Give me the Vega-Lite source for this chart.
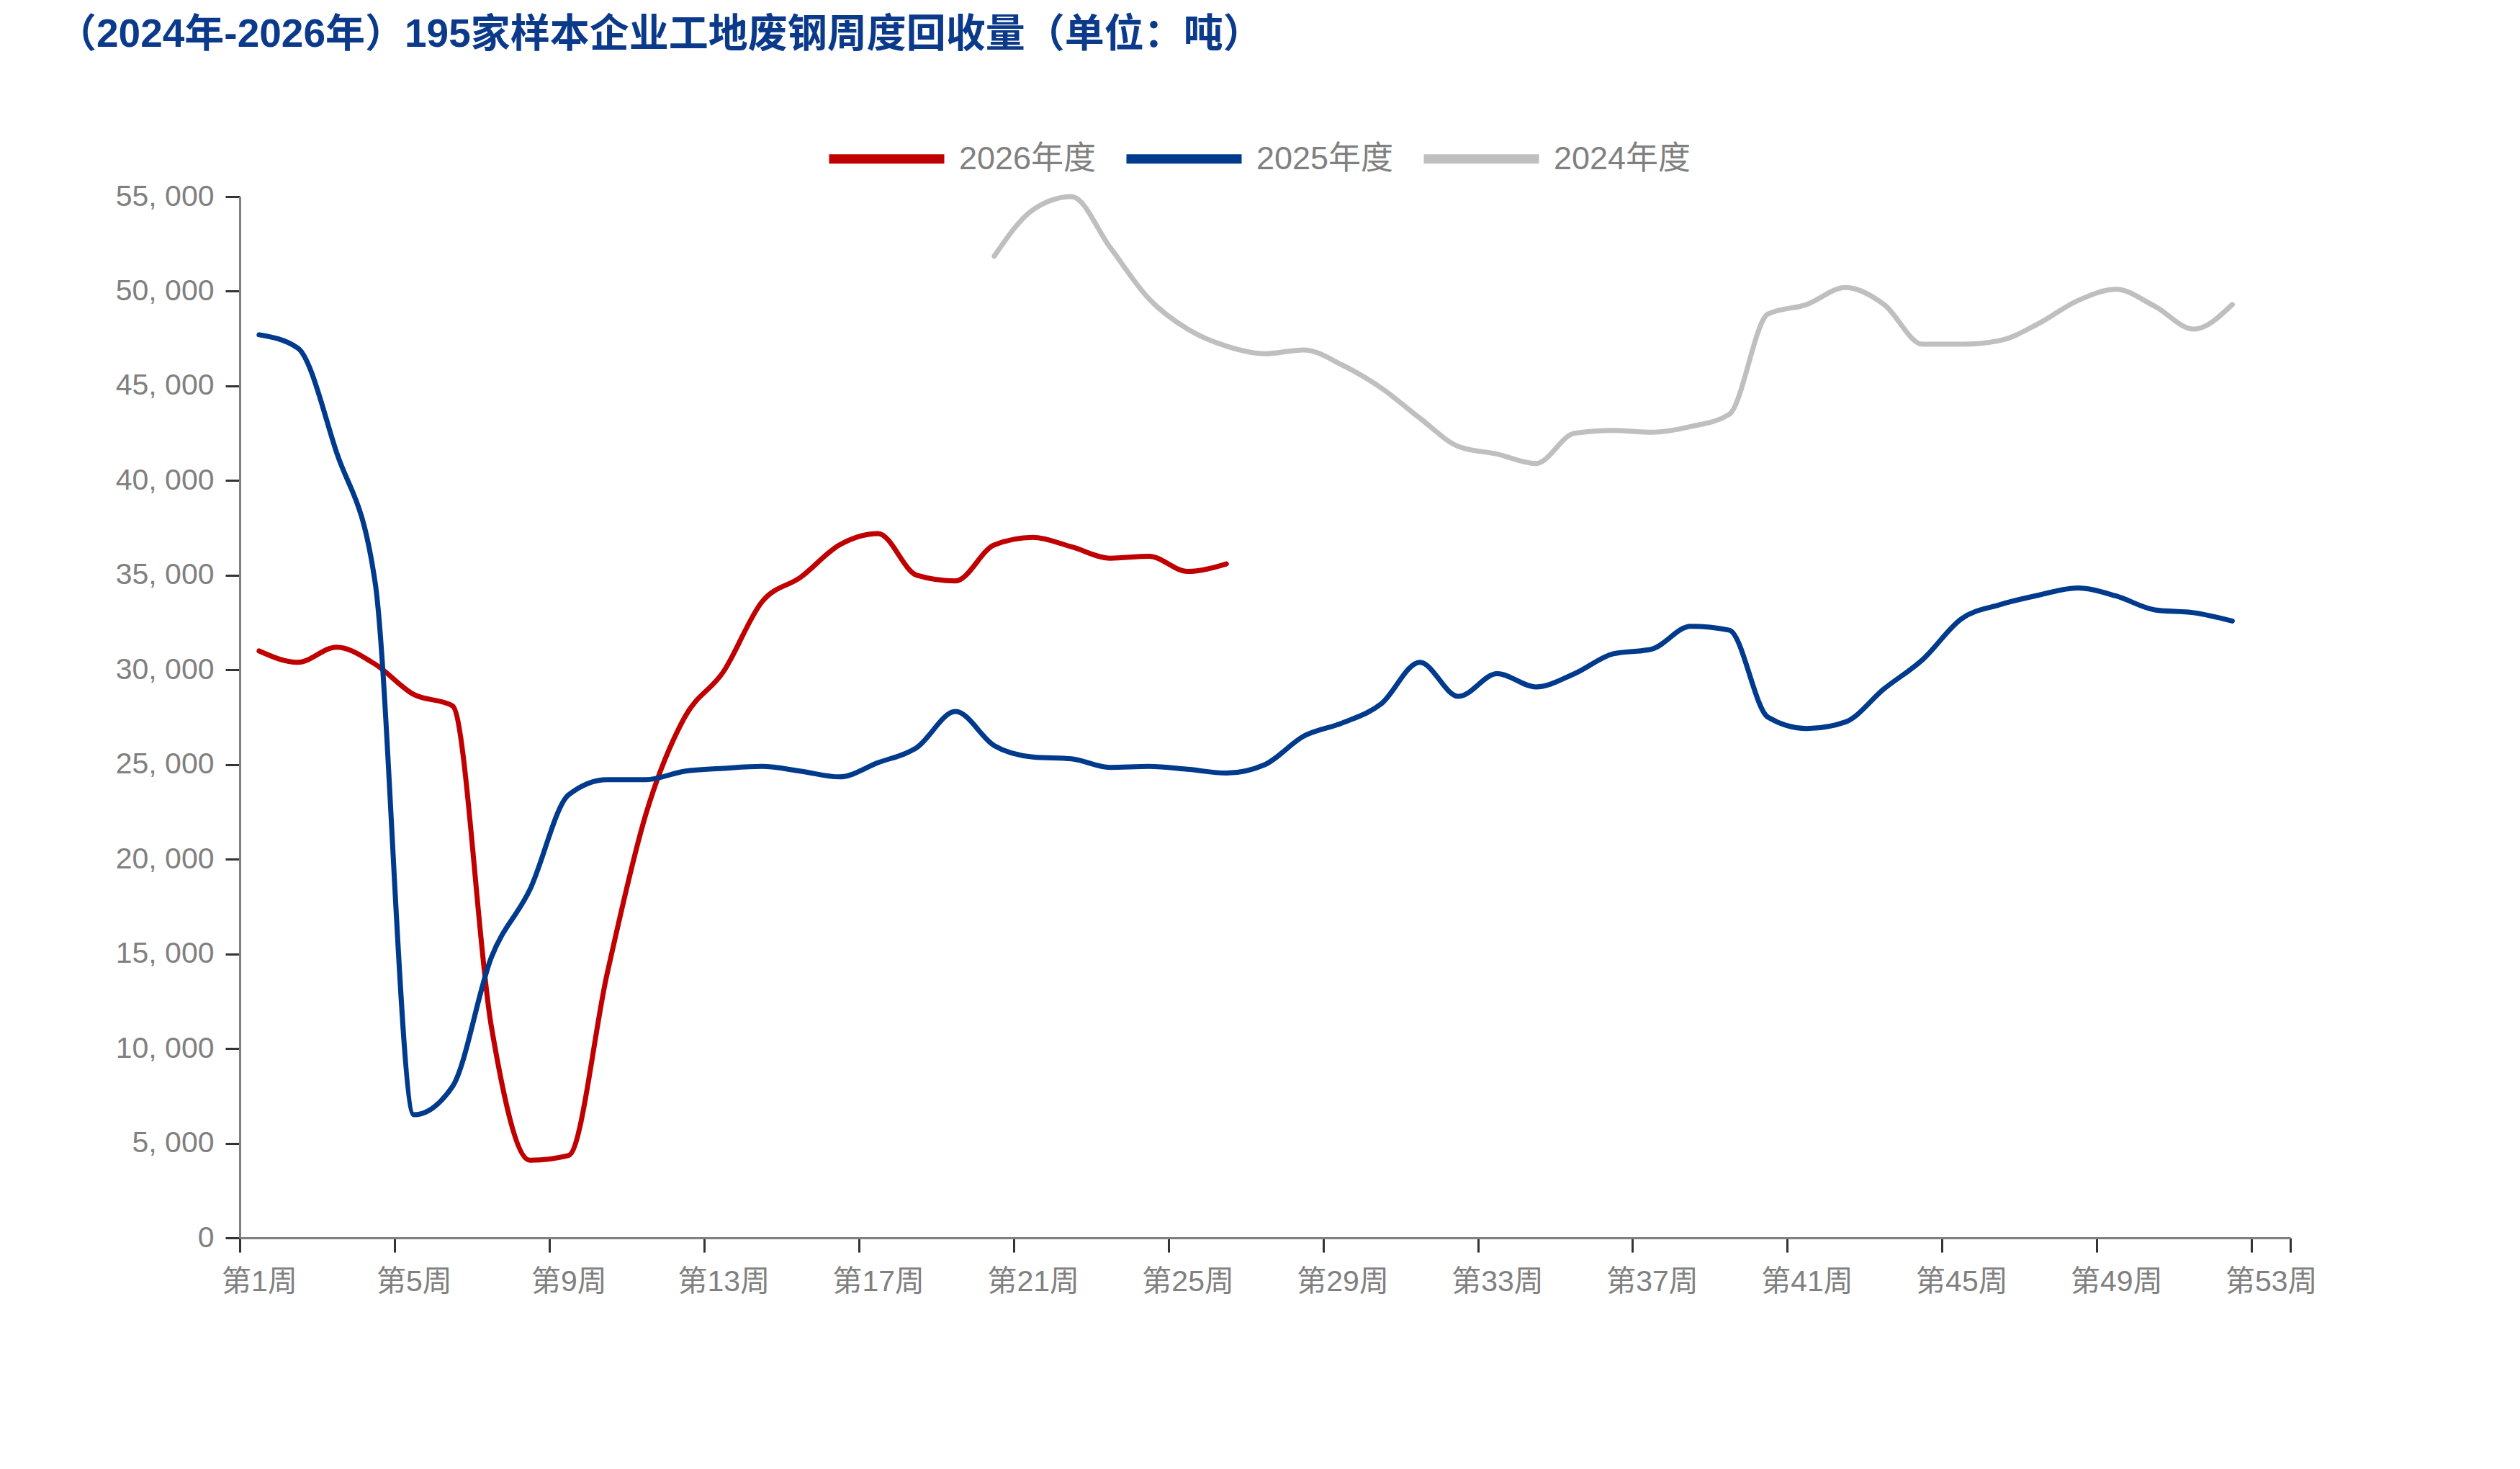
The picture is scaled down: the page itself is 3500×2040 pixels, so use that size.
{
  "$schema": "https://vega.github.io/schema/vega-lite/v6.json",
  "autosize": {"type": "none"},
  "padding": {"left": 333, "top": 273, "right": 319, "bottom": 321},
  "width": 2848,
  "height": 1446,
  "background": "white",
  "title": {
    "text": "（2024年-2026年）195家样本企业工地废钢周度回收量（单位：吨）",
    "anchor": "start",
    "frame": "group",
    "dx": -254,
    "offset": 57,
    "font": "Liberation Sans, Noto Sans CJK SC",
    "fontSize": 55,
    "fontWeight": "bold",
    "color": "#0B3A8A"
  },
  "config": {
    "view": {"stroke": null},
    "axis": {"grid": false}
  },
  "data": {
    "values": [
      {"week": 1, "series": "2026年度", "value": 31000},
      {"week": 2, "series": "2026年度", "value": 30400},
      {"week": 3, "series": "2026年度", "value": 31200},
      {"week": 4, "series": "2026年度", "value": 30300},
      {"week": 5, "series": "2026年度", "value": 28700},
      {"week": 6, "series": "2026年度", "value": 28100},
      {"week": 7, "series": "2026年度", "value": 11200},
      {"week": 8, "series": "2026年度", "value": 4100},
      {"week": 9, "series": "2026年度", "value": 4350},
      {"week": 10, "series": "2026年度", "value": 14000},
      {"week": 11, "series": "2026年度", "value": 22400},
      {"week": 12, "series": "2026年度", "value": 27500},
      {"week": 13, "series": "2026年度", "value": 29900},
      {"week": 14, "series": "2026年度", "value": 33600},
      {"week": 15, "series": "2026年度", "value": 34900},
      {"week": 16, "series": "2026年度", "value": 36600},
      {"week": 17, "series": "2026年度", "value": 37200},
      {"week": 18, "series": "2026年度", "value": 35000},
      {"week": 19, "series": "2026年度", "value": 34700},
      {"week": 20, "series": "2026年度", "value": 36600},
      {"week": 21, "series": "2026年度", "value": 37000},
      {"week": 22, "series": "2026年度", "value": 36500},
      {"week": 23, "series": "2026年度", "value": 35900},
      {"week": 24, "series": "2026年度", "value": 36000},
      {"week": 25, "series": "2026年度", "value": 35200},
      {"week": 26, "series": "2026年度", "value": 35600},

      {"week": 1, "series": "2025年度", "value": 47700},
      {"week": 2, "series": "2025年度", "value": 47000},
      {"week": 3, "series": "2025年度", "value": 41500},
      {"week": 4, "series": "2025年度", "value": 34600},
      {"week": 5, "series": "2025年度", "value": 6500},
      {"week": 6, "series": "2025年度", "value": 8000},
      {"week": 7, "series": "2025年度", "value": 14800},
      {"week": 8, "series": "2025年度", "value": 18400},
      {"week": 9, "series": "2025年度", "value": 23400},
      {"week": 10, "series": "2025年度", "value": 24200},
      {"week": 11, "series": "2025年度", "value": 24200},
      {"week": 12, "series": "2025年度", "value": 24650},
      {"week": 13, "series": "2025年度", "value": 24800},
      {"week": 14, "series": "2025年度", "value": 24900},
      {"week": 15, "series": "2025年度", "value": 24650},
      {"week": 16, "series": "2025年度", "value": 24350},
      {"week": 17, "series": "2025年度", "value": 25100},
      {"week": 18, "series": "2025年度", "value": 25900},
      {"week": 19, "series": "2025年度", "value": 27800},
      {"week": 20, "series": "2025年度", "value": 26000},
      {"week": 21, "series": "2025年度", "value": 25400},
      {"week": 22, "series": "2025年度", "value": 25300},
      {"week": 23, "series": "2025年度", "value": 24850},
      {"week": 24, "series": "2025年度", "value": 24900},
      {"week": 25, "series": "2025年度", "value": 24750},
      {"week": 26, "series": "2025年度", "value": 24550},
      {"week": 27, "series": "2025年度", "value": 25000},
      {"week": 28, "series": "2025年度", "value": 26500},
      {"week": 29, "series": "2025年度", "value": 27200},
      {"week": 30, "series": "2025年度", "value": 28200},
      {"week": 31, "series": "2025年度", "value": 30400},
      {"week": 32, "series": "2025年度", "value": 28600},
      {"week": 33, "series": "2025年度", "value": 29800},
      {"week": 34, "series": "2025年度", "value": 29100},
      {"week": 35, "series": "2025年度", "value": 29800},
      {"week": 36, "series": "2025年度", "value": 30850},
      {"week": 37, "series": "2025年度", "value": 31100},
      {"week": 38, "series": "2025年度", "value": 32300},
      {"week": 39, "series": "2025年度", "value": 32100},
      {"week": 40, "series": "2025年度", "value": 27500},
      {"week": 41, "series": "2025年度", "value": 26900},
      {"week": 42, "series": "2025年度", "value": 27250},
      {"week": 43, "series": "2025年度", "value": 29000},
      {"week": 44, "series": "2025年度", "value": 30550},
      {"week": 45, "series": "2025年度", "value": 32700},
      {"week": 46, "series": "2025年度", "value": 33450},
      {"week": 47, "series": "2025年度", "value": 33950},
      {"week": 48, "series": "2025年度", "value": 34330},
      {"week": 49, "series": "2025年度", "value": 33900},
      {"week": 50, "series": "2025年度", "value": 33170},
      {"week": 51, "series": "2025年度", "value": 33020},
      {"week": 52, "series": "2025年度", "value": 32580},

      {"week": 20, "series": "2024年度", "value": 51850},
      {"week": 21, "series": "2024年度", "value": 54300},
      {"week": 22, "series": "2024年度", "value": 55000},
      {"week": 23, "series": "2024年度", "value": 52300},
      {"week": 24, "series": "2024年度", "value": 49600},
      {"week": 25, "series": "2024年度", "value": 48000},
      {"week": 26, "series": "2024年度", "value": 47100},
      {"week": 27, "series": "2024年度", "value": 46700},
      {"week": 28, "series": "2024年度", "value": 46900},
      {"week": 29, "series": "2024年度", "value": 46100},
      {"week": 30, "series": "2024年度", "value": 44900},
      {"week": 31, "series": "2024年度", "value": 43300},
      {"week": 32, "series": "2024年度", "value": 41800},
      {"week": 33, "series": "2024年度", "value": 41400},
      {"week": 34, "series": "2024年度", "value": 40900},
      {"week": 35, "series": "2024年度", "value": 42500},
      {"week": 36, "series": "2024年度", "value": 42650},
      {"week": 37, "series": "2024年度", "value": 42550},
      {"week": 38, "series": "2024年度", "value": 42850},
      {"week": 39, "series": "2024年度", "value": 43500},
      {"week": 40, "series": "2024年度", "value": 48800},
      {"week": 41, "series": "2024年度", "value": 49300},
      {"week": 42, "series": "2024年度", "value": 50200},
      {"week": 43, "series": "2024年度", "value": 49300},
      {"week": 44, "series": "2024年度", "value": 47200},
      {"week": 45, "series": "2024年度", "value": 47200},
      {"week": 46, "series": "2024年度", "value": 47400},
      {"week": 47, "series": "2024年度", "value": 48300},
      {"week": 48, "series": "2024年度", "value": 49500},
      {"week": 49, "series": "2024年度", "value": 50100},
      {"week": 50, "series": "2024年度", "value": 49200},
      {"week": 51, "series": "2024年度", "value": 48000},
      {"week": 52, "series": "2024年度", "value": 49300}
    ]
  },
  "mark": {"type": "line", "interpolate": "monotone", "strokeWidth": 7, "strokeCap": "round", "strokeJoin": "round"},
  "encoding": {
    "x": {
      "field": "week",
      "type": "quantitative",
      "scale": {"domain": [0.5, 53.5], "nice": false, "zero": false},
      "axis": {
        "title": null,
        "values": [0.5, 4.5, 8.5, 12.5, 16.5, 20.5, 24.5, 28.5, 32.5, 36.5, 40.5, 44.5, 48.5, 52.5, 53.5],
        "labelExpr": "datum.value < 53 ? '第' + (datum.value + 0.5) + '周' : ''",
        "labelOffset": 27,
        "labelFlush": false,
        "labelOverlap": false,
        "labelBound": false,
        "labelFont": "Liberation Sans, Noto Sans CJK SC",
        "labelFontSize": 41,
        "labelColor": "#808080",
        "labelPadding": 21,
        "tickSize": 20,
        "tickWidth": 3,
        "tickColor": "#333333",
        "domainColor": "#808080",
        "domainWidth": 3
      }
    },
    "y": {
      "field": "value",
      "type": "quantitative",
      "scale": {"domain": [0, 55000], "nice": false},
      "axis": {
        "title": null,
        "values": [0, 5000, 10000, 15000, 20000, 25000, 30000, 35000, 40000, 45000, 50000, 55000],
        "labelExpr": "replace(format(datum.value, ','), ',', ', ')",
        "labelFont": "Liberation Sans, Noto Sans CJK SC",
        "labelFontSize": 41,
        "labelColor": "#808080",
        "labelPadding": 16,
        "tickSize": 20,
        "tickWidth": 3,
        "tickColor": "#333333",
        "domainColor": "#808080",
        "domainWidth": 3,
        "labelFlush": false,
        "labelOverlap": false
      }
    },
    "color": {
      "field": "series",
      "type": "nominal",
      "scale": {"domain": ["2026年度", "2025年度", "2024年度"], "range": ["#C00000", "#003A8C", "#BFBFBF"]},
      "legend": {
        "title": null,
        "orient": "none",
        "direction": "horizontal",
        "legendX": 812,
        "legendY": -139,
        "padding": 0,
        "symbolType": "stroke",
        "symbolSize": 25600,
        "symbolStrokeWidth": 13,
        "labelOffset": 14,
        "columnPadding": 15,
        "labelFont": "Liberation Sans, Noto Sans CJK SC",
        "labelFontSize": 45,
        "labelColor": "#808080",
        "labelLimit": 400
      }
    }
  }
}
